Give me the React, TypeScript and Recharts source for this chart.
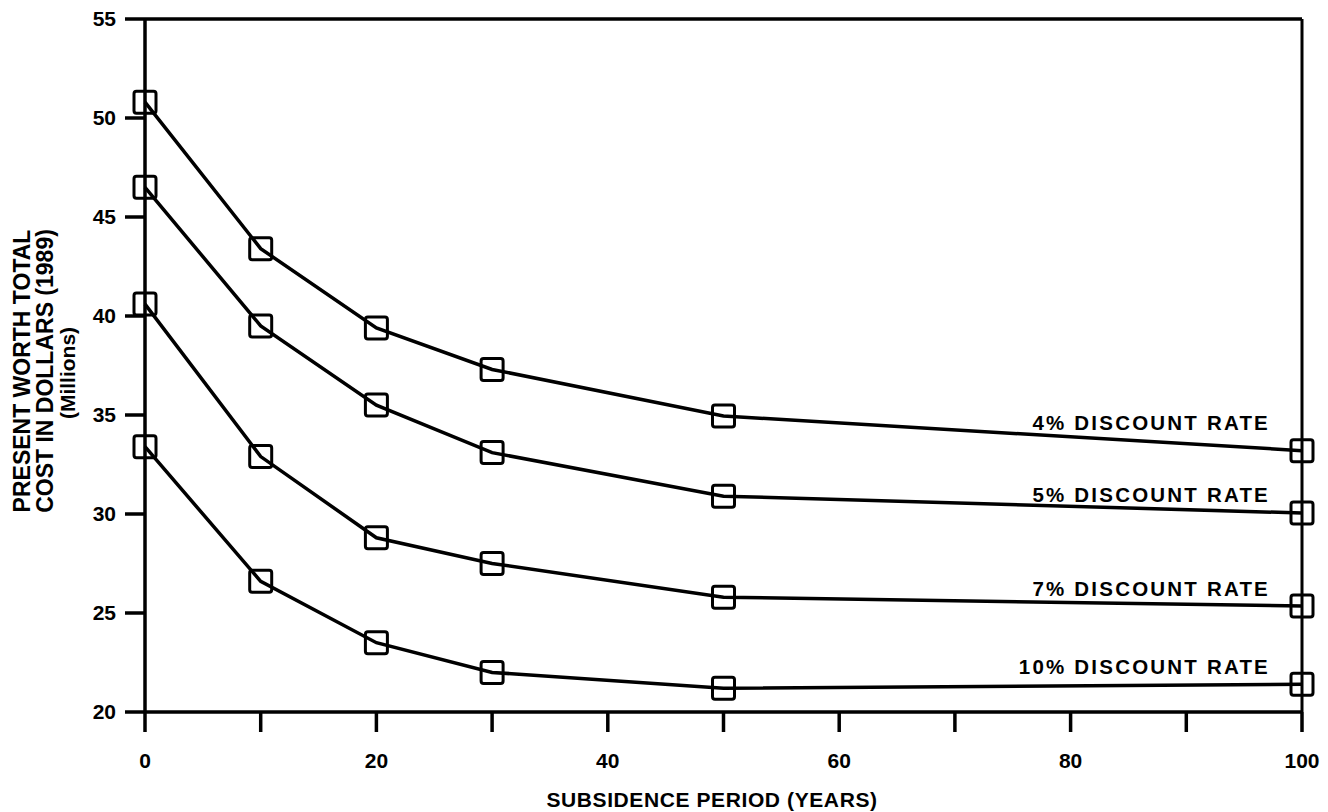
import React from "react";
import {
  LineChart,
  Line,
  XAxis,
  YAxis,
  ReferenceLine,
  LabelList,
  Label,
} from "recharts";

// subsidence period (years)
const years = [0, 10, 20, 30, 50, 100];

// present worth total cost, $ millions (1989)
const rate4 = [50.8, 43.4, 39.4, 37.3, 34.95, 33.2];
const rate5 = [46.5, 39.5, 35.5, 33.1, 30.9, 30.05];
const rate7 = [40.6, 32.9, 28.8, 27.5, 25.8, 25.35];
const rate10 = [33.4, 26.6, 23.5, 22.0, 21.2, 21.4];

const seriesNames = [
  "4% DISCOUNT RATE",
  "5% DISCOUNT RATE",
  "7% DISCOUNT RATE",
  "10% DISCOUNT RATE",
];

const xTicks = [0, 10, 20, 30, 40, 50, 60, 70, 80, 90, 100];
const yTicks = [20, 25, 30, 35, 40, 45, 50, 55];

const data = years.map((year, i) => ({
  year,
  r4: rate4[i],
  r5: rate5[i],
  r7: rate7[i],
  r10: rate10[i],
}));

const FONT = "'Liberation Sans', Arial, Helvetica, sans-serif";
const INK = "#000";

const SquareDot = (props: any) => {
  const { cx, cy, index } = props;
  if (cx == null || cy == null) return null;
  return (
    <rect
      key={`sq-${index}`}
      x={cx - 11}
      y={cy - 11}
      width={22}
      height={22}
      rx={2.5}
      fill="none"
      stroke={INK}
      strokeWidth={3}
    />
  );
};

// label sits above the last point, right-aligned left of the frame
const rateLabel = (text: string, dy: number) => (props: any) => {
  const { x, y, index } = props;
  if (index !== years.length - 1) return null;
  return (
    <text
      x={x - 32}
      y={y + dy}
      textAnchor="end"
      fill={INK}
      fontFamily={FONT}
      fontSize={20.5}
      fontWeight="bold"
      letterSpacing={2.2}
    >
      {text}
    </text>
  );
};

const YTitle = () => (
  <g fill={INK} fontFamily={FONT} fontWeight="bold">
    <text transform="translate(30, 371) rotate(-90)" textAnchor="middle" fontSize={23}>
      PRESENT WORTH TOTAL
    </text>
    <text transform="translate(53, 371) rotate(-90)" textAnchor="middle" fontSize={23}>
      COST IN DOLLARS (1989)
    </text>
    <text transform="translate(75, 373) rotate(-90)" textAnchor="middle" fontSize={21}>
      (Millions)
    </text>
  </g>
);

const XTitle = () => (
  <text
    x={712}
    y={807}
    textAnchor="middle"
    fill={INK}
    fontFamily={FONT}
    fontSize={21}
    fontWeight="bold"
    letterSpacing={0.6}
  >
    SUBSIDENCE PERIOD (YEARS)
  </text>
);

const tickStyle = { fill: INK, fontSize: 21, fontWeight: "bold", fontFamily: FONT };

export default function App() {
  const lines = [
    { key: "r4", name: seriesNames[0], dy: -21 },
    { key: "r5", name: seriesNames[1], dy: -11 },
    { key: "r7", name: seriesNames[2], dy: -10 },
    { key: "r10", name: seriesNames[3], dy: -10 },
  ];

  return (
    <div style={{ position: "absolute", left: 0, top: 0, background: "#fff" }}>
      <LineChart
        width={1328}
        height={812}
        data={data}
        margin={{ top: 19, right: 26, left: 0, bottom: 0 }}
      >
        <XAxis
          dataKey="year"
          type="number"
          domain={[0, 100]}
          ticks={xTicks}
          interval={0}
          tickFormatter={(v: number) => (v % 20 === 0 ? String(v) : "")}
          tickSize={20}
          tickMargin={21}
          height={100}
          axisLine={{ stroke: INK, strokeWidth: 3.5 }}
          tickLine={{ stroke: INK, strokeWidth: 3.5 }}
          tick={tickStyle}
        >
          <Label content={<XTitle />} />
        </XAxis>
        <YAxis
          type="number"
          domain={[20, 55]}
          ticks={yTicks}
          interval={0}
          width={145}
          tickSize={20}
          tickMargin={9}
          axisLine={{ stroke: INK, strokeWidth: 3.5 }}
          tickLine={{ stroke: INK, strokeWidth: 3.5 }}
          tick={tickStyle}
        >
          <Label content={<YTitle />} />
        </YAxis>
        <ReferenceLine y={55} stroke={INK} strokeWidth={3.5} />
        <ReferenceLine x={100} stroke={INK} strokeWidth={3} />
        {lines.map((l) => (
          <Line
            key={l.key}
            type="linear"
            dataKey={l.key}
            stroke={INK}
            strokeWidth={3.5}
            dot={<SquareDot />}
            activeDot={false}
            isAnimationActive={false}
          >
            <LabelList dataKey={l.key} content={rateLabel(l.name, l.dy)} />
          </Line>
        ))}
      </LineChart>
    </div>
  );
}
